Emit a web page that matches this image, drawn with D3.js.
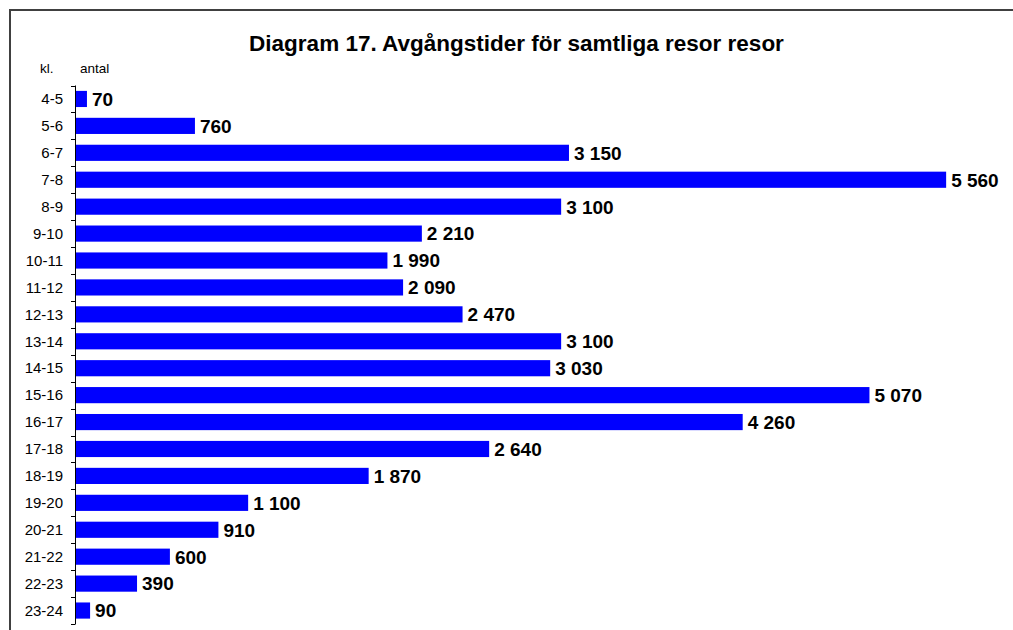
<!DOCTYPE html>
<html>
<head>
<meta charset="utf-8">
<script src="https://cdn.jsdelivr.net/npm/d3@7"></script>
<style>
  body { margin: 0; background: #fff; }
  svg { display: block; font-family: "Liberation Sans", Arial, sans-serif; }
</style>
</head>
<body>
<svg id="chart" width="1013" height="630"></svg>
<script>
// timmar (kl.) och antal resor
const hours = ["4-5","5-6","6-7","7-8","8-9","9-10","10-11","11-12","12-13","13-14",
               "14-15","15-16","16-17","17-18","18-19","19-20","20-21","21-22","22-23","23-24"];
const trips = [70, 760, 3150, 5560, 3100, 2210, 1990, 2090, 2470, 3100,
               3030, 5070, 4260, 2640, 1870, 1100, 910, 600, 390, 90];
const titleText = "Diagram 17. Avgångstider för samtliga resor resor";

const svg = d3.select("#chart");

// outer frame (right and bottom edges fall outside the picture)
svg.append("rect")
  .attr("x", 10).attr("y", 10)
  .attr("width", 1020).attr("height", 640)
  .attr("fill", "none")
  .attr("stroke", "#404040")
  .attr("stroke-width", 2);

svg.append("text")
  .attr("x", 516.5).attr("y", 51)
  .attr("text-anchor", "middle")
  .attr("font-size", 22.5).attr("font-weight", "bold")
  .text(titleText);

svg.append("text").attr("x", 40).attr("y", 73).attr("font-size", 13.5).text("kl.");
svg.append("text").attr("x", 80).attr("y", 73).attr("font-size", 13.5).text("antal");

const x = d3.scaleLinear().domain([0, 6000]).range([76, 1015]);
const y = d3.scaleBand().domain(hours).range([85.5, 624]).paddingInner(0.4).paddingOuter(0.2);

const fmt = v => d3.format(",")(v).replace(/,/g, " ");

// y axis: ticks at category boundaries
const axisG = svg.append("g");
axisG.append("line")
  .attr("x1", 75.5).attr("x2", 75.5)
  .attr("y1", 85.5).attr("y2", 624)
  .attr("stroke", "#000");
const bounds = d3.range(hours.length + 1).map(i => 85.5 + i * y.step());
axisG.selectAll("line.tick")
  .data(bounds)
  .join("line")
  .attr("class", "tick")
  .attr("x1", 71).attr("x2", 75.5)
  .attr("y1", d => Math.round(d) + 0.5).attr("y2", d => Math.round(d) + 0.5)
  .attr("stroke", "#000");

axisG.selectAll("text")
  .data(hours)
  .join("text")
  .attr("x", 63)
  .attr("y", d => y(d) + y.bandwidth() / 2)
  .attr("dy", "0.35em")
  .attr("text-anchor", "end")
  .attr("font-size", 15)
  .text(d => d);

svg.append("g").selectAll("rect")
  .data(trips)
  .join("rect")
  .attr("x", x(0))
  .attr("y", (d, i) => y(hours[i]))
  .attr("width", d => x(d) - x(0))
  .attr("height", y.bandwidth())
  .attr("fill", "#0000ff");

svg.append("g").selectAll("text")
  .data(trips)
  .join("text")
  .attr("x", d => x(d) + 5)
  .attr("y", (d, i) => y(hours[i]) + y.bandwidth() / 2)
  .attr("dy", "0.36em")
  .attr("font-size", 19).attr("font-weight", "bold")
  .text(d => fmt(d));
</script>
</body>
</html>
